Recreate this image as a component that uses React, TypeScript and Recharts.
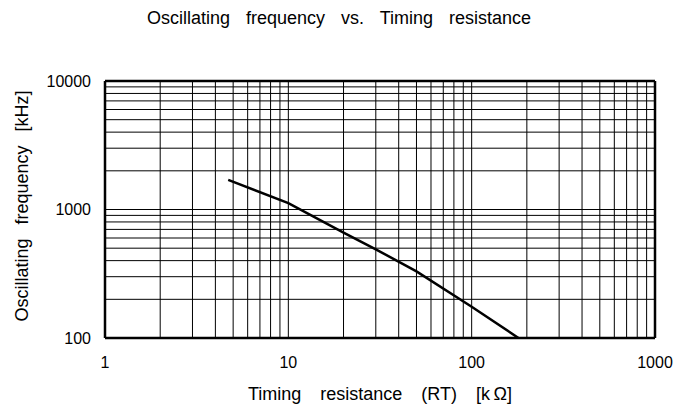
import { Label, Line, LineChart, ReferenceLine, XAxis, YAxis } from "recharts";

const rtValues = [4.7, 10, 20, 30, 50, 100, 180];
const freqValues = [1700, 1120, 660, 490, 330, 175, 100];

const xTicks = [1, 10, 100, 1000];
const yTicks = [100, 1000, 10000];

const xGrid = [2, 3, 4, 5, 6, 7, 8, 9, 10, 20, 30, 40, 50, 60, 70, 80, 90, 100, 200, 300, 400, 500, 600, 700, 800, 900];
const yGrid = [200, 300, 400, 500, 600, 700, 800, 900, 1000, 2000, 3000, 4000, 5000, 6000, 7000, 8000, 9000];

const data = rtValues.map((rt, i) => ({ rt, freq: freqValues[i] }));

const font = "'Liberation Sans', Arial, sans-serif";

export default function App() {
  return (
    <div style={{ position: "absolute", left: 0, top: 0, width: 678, height: 410, background: "#fff" }}>
      <div
        style={{
          position: "absolute",
          left: 0,
          top: 8,
          width: 678,
          textAlign: "center",
          fontFamily: font,
          fontSize: 18,
          wordSpacing: 11,
          color: "#000",
        }}
      >
        Oscillating frequency vs. Timing resistance
      </div>
      <LineChart
        width={678}
        height={410}
        data={data}
        margin={{ top: 81, right: 23, bottom: 10, left: 30 }}
      >
        <XAxis
          dataKey="rt"
          type="number"
          scale="log"
          domain={[1, 1000]}
          ticks={xTicks}
          allowDataOverflow
          height={62}
          tickSize={0}
          tickMargin={19}
          tickLine={false}
          axisLine={false}
          tick={{ fill: "#000", fontSize: 16, fontFamily: font }}
        >
          <Label
            value={"Timing resistance (RT)    [k\u2009\u03a9]"}
            position="insideBottom"
            offset={0}
            style={{ fill: "#000", fontSize: 18, fontFamily: font, wordSpacing: 14, whiteSpace: "pre" }}
          />
        </XAxis>
        <YAxis
          type="number"
          scale="log"
          domain={[100, 10000]}
          ticks={yTicks}
          allowDataOverflow
          width={75}
          tickSize={0}
          tickMargin={14}
          tickLine={false}
          axisLine={false}
          tick={{ fill: "#000", fontSize: 16, fontFamily: font }}
        >
          <Label
            content={() => (
              <text
                x={22}
                y={206}
                transform="rotate(-90 22 206)"
                textAnchor="middle"
                dominantBaseline="central"
                style={{ fill: "#000", fontSize: 18, fontFamily: font, wordSpacing: 9 }}
              >
                Oscillating frequency [kHz]
              </text>
            )}
          />
        </YAxis>
        {xGrid.map((v) => (
          <ReferenceLine key={"x" + v} x={v} stroke="#000" strokeWidth={1} />
        ))}
        {yGrid.map((v) => (
          <ReferenceLine key={"y" + v} y={v} stroke="#000" strokeWidth={1} />
        ))}
        <ReferenceLine x={1} stroke="#000" strokeWidth={2.5} />
        <ReferenceLine x={1000} stroke="#000" strokeWidth={2.5} />
        <ReferenceLine y={100} stroke="#000" strokeWidth={2.5} />
        <ReferenceLine y={10000} stroke="#000" strokeWidth={2.5} />
        <Line
          dataKey="freq"
          type="linear"
          stroke="#000"
          strokeWidth={2.5}
          dot={false}
          isAnimationActive={false}
        />
      </LineChart>
    </div>
  );
}
